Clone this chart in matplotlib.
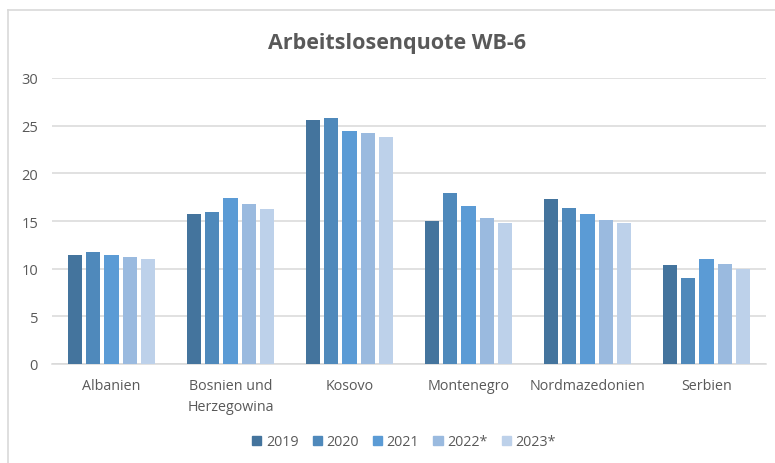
"""Arbeitslosenquote WB-6"""

# Matplotlib
from matplotlib import pyplot as plt
from matplotlib.lines import Line2D

# Numpy
import numpy as np


countries = ['Albanien', 'Bosnien und\nHerzegowina', 'Kosovo', 'Montenegro',
             'Nordmazedonien', 'Serbien']
years = ['2019', '2020', '2021', '2022*', '2023*']
q2019 = [11.4, 15.7, 25.6, 15.0, 17.3, 10.4]
q2020 = [11.7, 15.9, 25.8, 17.9, 16.4, 9.0]
q2021 = [11.4, 17.4, 24.4, 16.6, 15.7, 11.0]
q2022 = [11.2, 16.8, 24.2, 15.3, 15.1, 10.5]
q2023 = [11.0, 16.3, 23.8, 14.8, 14.8, 10.0]
colors = ['#44749D', '#4F89BB', '#5B9BD5', '#9ABADF', '#BDD1EA']

plt.rcParams['font.family'] = ['Open Sans', 'DejaVu Sans']


def generate_plot():
    """Draw grouped bar chart"""
    fig = plt.figure(figsize=(7.75, 4.64), dpi=100)
    ax = fig.add_axes([52 / 775, 99 / 464, 714 / 775, 286 / 464])

    x = np.arange(len(countries))
    step = 0.154
    series = [q2019, q2020, q2021, q2022, q2023]
    for j, (vals, col) in enumerate(zip(series, colors)):
        ax.bar(x + (j - 2) * step, vals, width=0.118, color=col,
               label=years[j], zorder=3)

    ax.set_xlim(-0.5, len(countries) - 0.5)
    ax.set_ylim(0, 30)
    ax.set_yticks(range(0, 31, 5))
    ax.set_xticks(x)
    ax.set_xticklabels(countries, fontsize=10.3, color='#595959',
                       linespacing=1.6)
    ax.tick_params(axis='y', length=0, pad=10, labelsize=10.5,
                   labelcolor='#595959')
    ax.tick_params(axis='x', length=0, pad=10)
    ax.grid(axis='y', color='#D9D9D9', lw=1.1, zorder=0)
    for side in ['top', 'right', 'left']:
        ax.spines[side].set_visible(False)
    ax.spines['bottom'].set_color('#D9D9D9')
    ax.spines['bottom'].set_linewidth(1.1)

    fig.text(397 / 775, 1 - 43 / 464, 'Arbeitslosenquote WB-6',
             ha='center', va='center', fontsize=15.5, fontweight='bold',
             color='#595959')

    handles = [plt.Rectangle((0, 0), 1, 1, color=c) for c in colors]
    fig.legend(handles, years, loc='center', bbox_to_anchor=(404 / 775, 1 - 443 / 464),
               ncol=5, frameon=False, fontsize=10.3, labelcolor='#595959',
               handlelength=0.65, handleheight=0.65, handletextpad=0.3,
               columnspacing=1.0)

    # chart border
    fig.add_artist(Line2D([8 / 775, 1], [1 - 11 / 464] * 2,
                          color='#D9D9D9', lw=1.2, transform=fig.transFigure))
    fig.add_artist(Line2D([8 / 775] * 2, [0, 1 - 11 / 464],
                          color='#D9D9D9', lw=1.2, transform=fig.transFigure))

    fig.savefig('out.png', dpi=100)


if __name__ == '__main__':
    generate_plot()
